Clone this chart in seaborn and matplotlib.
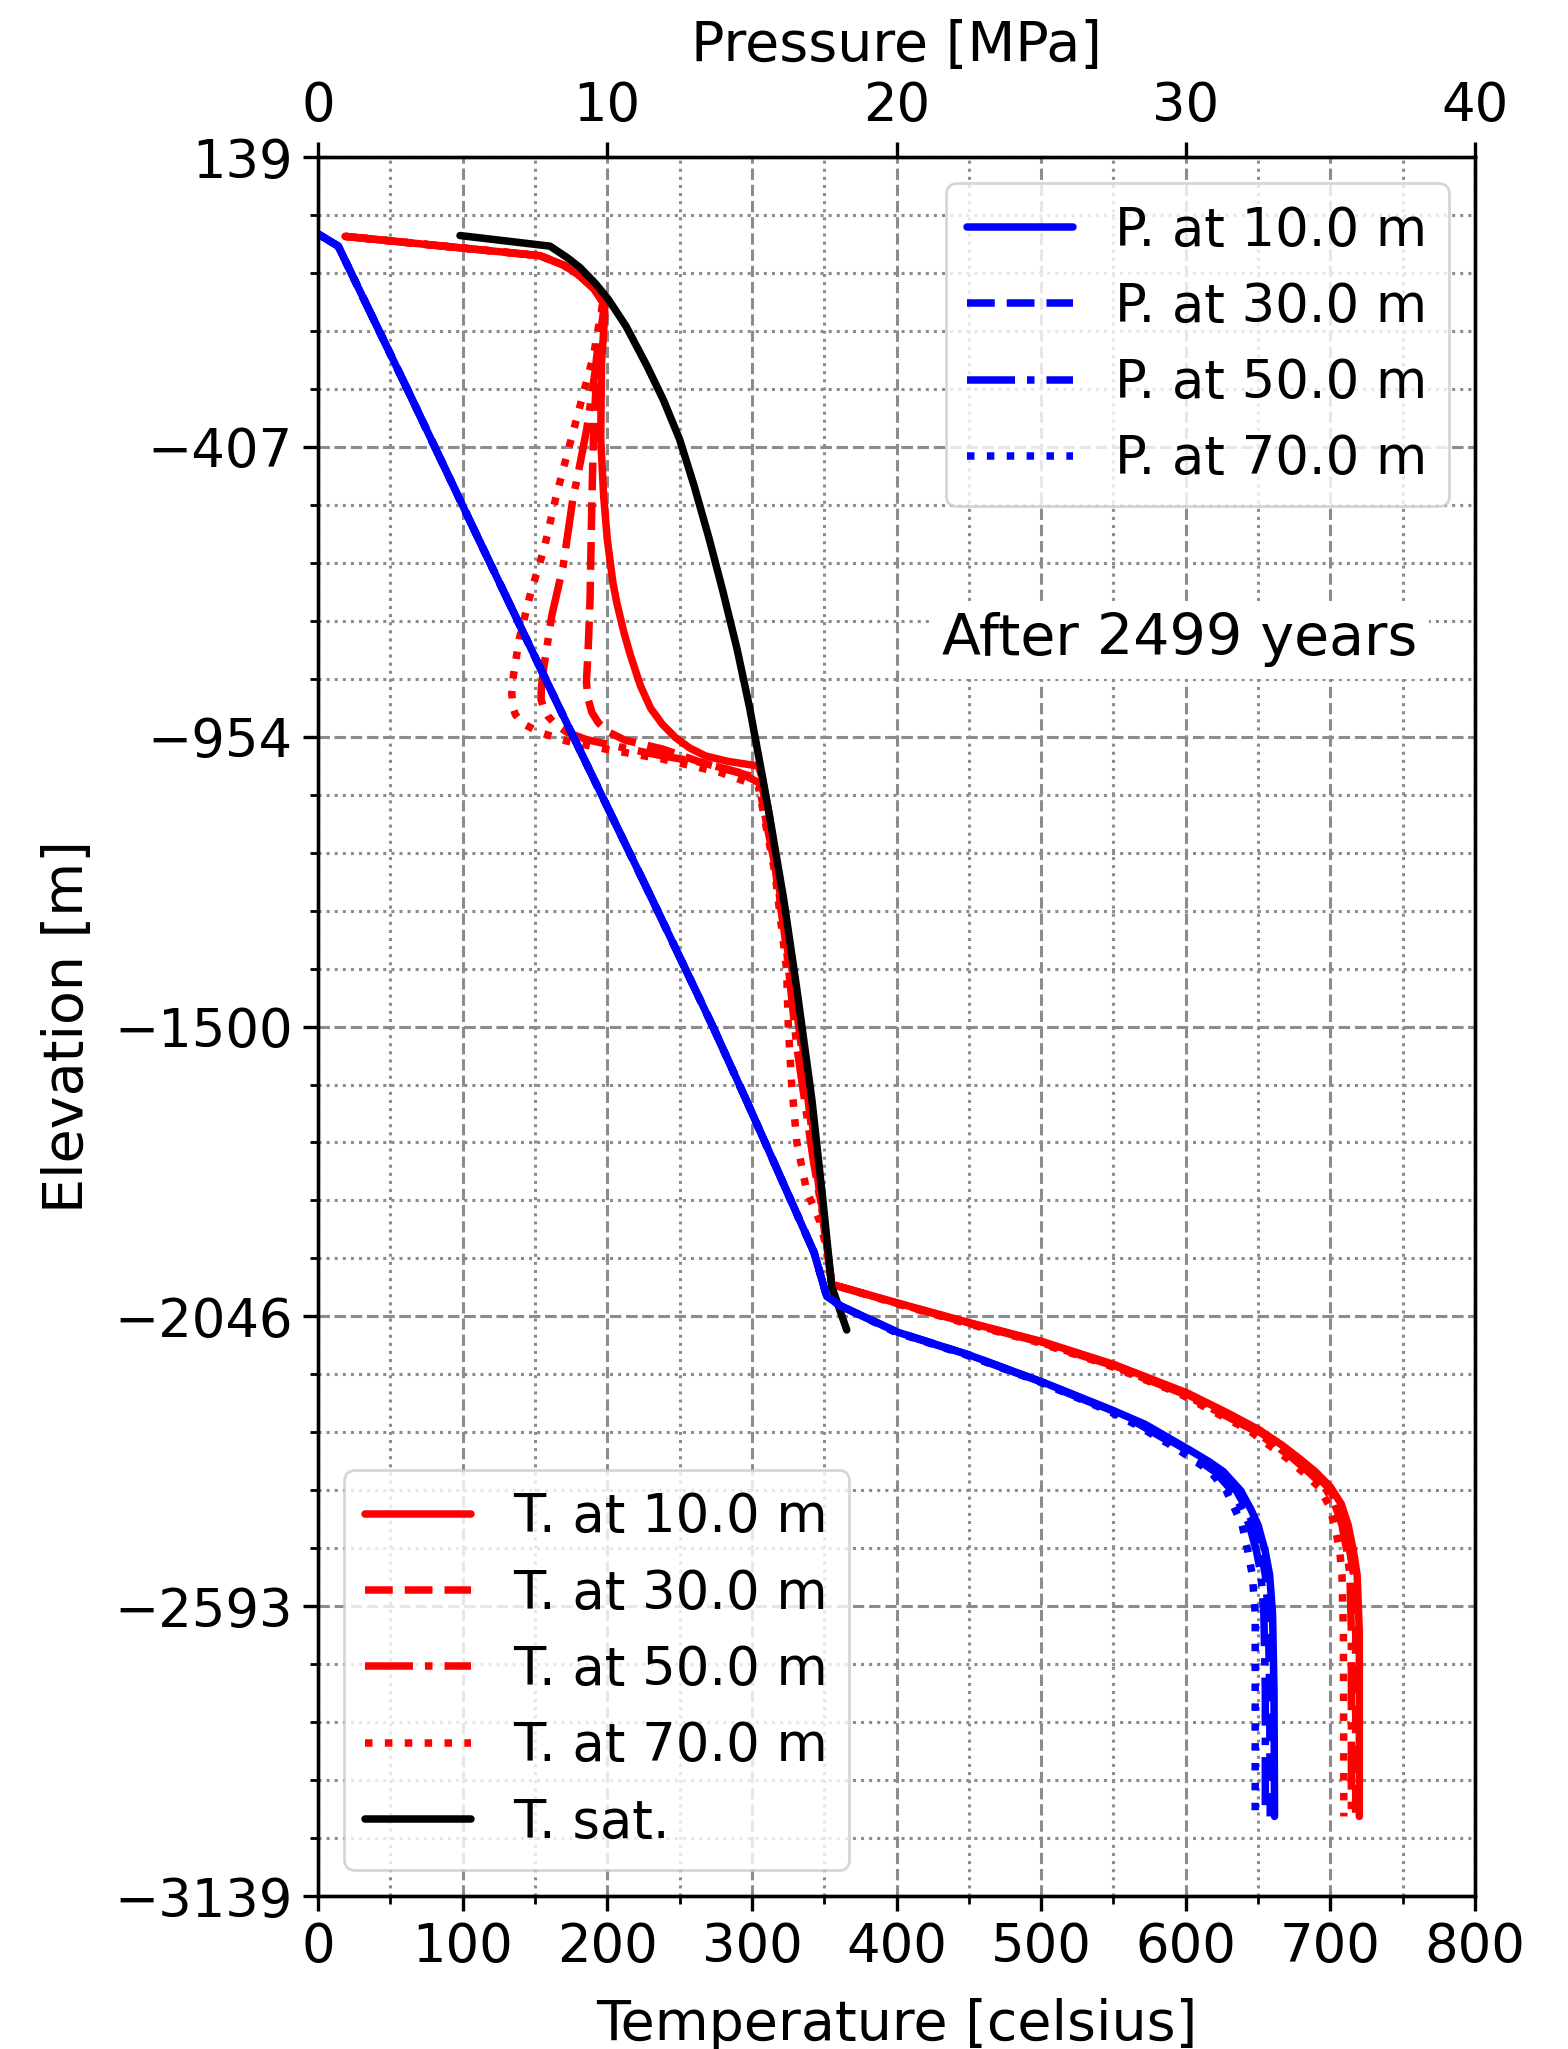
import matplotlib
matplotlib.use("Agg")
import matplotlib.pyplot as plt
from matplotlib.ticker import MultipleLocator, AutoMinorLocator, NullLocator
from matplotlib.lines import Line2D
import seaborn as sns

# ---------------- pressure profiles (MPa) vs elevation (m) ----------------
p10_z = [-6, -29, -300, -581, -900, -1260, -1500, -1638, -1926, -2009, -2027, -2076,
         -2119, -2170, -2224, -2250, -2296, -2320, -2339, -2375, -2410, -2440, -2490,
         -2534, -2606, -2750, -2989]
p10_v = [0.0, 0.70, 3.10, 5.55, 8.35, 11.55, 13.65, 14.80, 17.15, 17.59, 18.08, 20.03,
         22.5, 25.04, 27.5, 28.6, 30.06, 30.8, 31.3, 31.9, 32.25, 32.5, 32.75,
         32.9, 33.0, 33.05, 33.07]
p30_z = p10_z
p30_v = [0.0, 0.70, 3.10, 5.55, 8.35, 11.55, 13.65, 14.80, 17.15, 17.59, 18.08, 20.03,
         22.5, 25.0, 27.45, 28.5, 29.95, 30.65, 31.15, 31.75, 32.1, 32.35, 32.6,
         32.75, 32.85, 32.9, 32.92]
p50_z = p10_z
p50_v = [0.0, 0.70, 3.10, 5.55, 8.35, 11.55, 13.65, 14.80, 17.15, 17.59, 18.08, 20.0,
         22.45, 24.98, 27.4, 28.4, 29.85, 30.5, 31.0, 31.6, 31.95, 32.2, 32.45,
         32.6, 32.7, 32.75, 32.75]
p70_z = p10_z
p70_v = [0.0, 0.70, 3.10, 5.55, 8.35, 11.55, 13.65, 14.80, 17.15, 17.59, 18.08, 19.95,
         22.4, 24.95, 27.3, 28.25, 29.7, 30.35, 30.85, 31.4, 31.7, 31.95, 32.15,
         32.3, 32.4, 32.4, 32.4]

# ---------------- temperature profiles (celsius) vs elevation (m) ----------------
t10_z = [-10.6, -32.6, -47, -65, -85, -110, -135, -154, -250, -393, -500, -581, -663,
         -700, -757, -800, -858, -900, -930, -955, -975, -990, -1000, -1009, -1030,
         -1100, -1260, -1428, -1608, -1753, -1861, -1986, -2021, -2058, -2094, -2137,
         -2191, -2230, -2260, -2290, -2314, -2340, -2368, -2400, -2440, -2490, -2534,
         -2642, -2989]
t10_v = [18.7, 100, 153.5, 170, 181, 191, 197, 198.4, 196, 195.5, 197.5, 200, 203.9,
         206.5, 211.5, 216, 223, 230, 238, 247, 257, 268, 283, 304.5, 307,
         312, 320, 330, 338.5, 344.8, 349.4, 355.2, 400.5, 450, 500.9, 550.3,
         601.2, 630, 650.6, 667, 678.4, 690, 700, 707.5, 712.3, 716, 718.5,
         720, 720]

t30_z = [-10.6, -32.6, -47, -65, -85, -110, -135, -141, -200, -267, -393, -506, -695,
         -789, -850, -880, -908, -928, -945, -960, -977, -1002, -1028, -1047, -1100,
         -1260, -1428, -1608, -1753, -1861, -1986, -2021, -2058, -2094, -2137, -2191,
         -2230, -2260, -2290, -2314, -2340, -2368, -2400, -2440, -2490, -2534, -2642,
         -2989]
t30_v = [18.7, 100, 153.5, 170, 181, 191, 197, 198, 195, 192.7, 190.4, 189.4, 188.1,
         186.8, 185.6, 186.5, 189.4, 194, 201, 212, 238.3, 264.8, 299.2, 307, 311,
         319, 329, 337.5, 344, 349, 355.2, 400, 449, 499.5, 548.5, 599,
         628, 648.5, 665, 676.5, 688, 698, 705.5, 710, 713.5, 716, 717.5,
         717.5]

t50_z = [-10.6, -32.6, -47, -65, -85, -110, -135, -267, -374, -456, -506, -632, -726,
         -820, -860, -883, -900, -915, -930, -945, -959, -975, -990, -1002, -1021,
         -1040, -1211, -1356, -1536, -1644, -1753, -1861, -1933, -1986, -2021, -2058,
         -2094, -2137, -2191, -2230, -2260, -2290, -2314, -2340, -2368, -2400, -2440,
         -2490, -2534, -2642, -2989]
t50_v = [18.7, 100, 153.5, 170, 181, 191, 197, 191.5, 185.8, 180, 176.2, 169.5, 161.6,
         156.3, 154.5, 154.2, 156, 159, 164, 172, 185.4, 211.9, 238.3, 264.8, 291.2,
         304.5, 317, 324, 331, 336.7, 342.5, 349.4, 352.9, 355.2, 399.5, 448,
         498, 547, 597, 625, 646, 662, 674, 685, 696, 703, 708,
         711.5, 713.5, 714.5, 714.5]

t70_z = [-10.6, -32.6, -47, -65, -85, -110, -135, -236, -330, -424, -506, -600, -682,
         -770, -839, -870, -896, -912, -928, -946, -962, -977, -996, -1021, -1047,
         -1211, -1392, -1500, -1608, -1717, -1810, -1868, -1933, -1986, -2021, -2058,
         -2094, -2137, -2191, -2230, -2260, -2290, -2314, -2340, -2368, -2400, -2440,
         -2490, -2534, -2642, -2989]
t70_v = [18.7, 100, 153.5, 170, 181, 191, 197, 190.4, 181.2, 172, 164.2, 156.3, 147.1,
         139.1, 135.1, 134, 134.5, 136.5, 141, 153.6, 172.2, 198.7, 238.3, 278, 304.5,
         316, 324, 325.2, 327.5, 331, 337.9, 347.1, 352.9, 355.2, 398, 446,
         496, 545, 595, 622, 643, 658, 670, 681, 692, 698.5, 703,
         706.5, 708, 709, 709.3]

tsat_z = [-9, -29, -50, -69, -100, -129, -180, -255, -320, -393, -480, -581, -680, -789,
          -900, -1010, -1103, -1260, -1428, -1638, -1825, -1990, -2072]
tsat_v = [98.2, 160.4, 172, 181, 192, 200.7, 213, 227.5, 239, 250, 260, 270.5, 280, 289.8,
          298.5, 306, 312.2, 322, 331, 341.5, 349, 355.2, 365.6]

elev_ticks = [139, -407.3, -953.7, -1500, -2046.3, -2592.7, -3139]
elev_labels = ["139", "\u2212407", "\u2212954", "\u22121500", "\u22122046", "\u22122593", "\u22123139"]

sns.set_style("white")
plt.rcParams["font.family"] = ["DejaVu Sans"]
plt.rcParams.update({
    "text.color": "black",
    "axes.labelcolor": "black",
    "xtick.color": "black",
    "ytick.color": "black",
    "axes.edgecolor": "black",
})
FS = 19
LW = 2.7

fig = plt.figure(figsize=(7.84, 10.245), dpi=200)
ax1 = fig.add_axes([0.2028, 0.07467, 0.7379, 0.8487])
ax2 = ax1.twiny()

temp_series = [
    (t10_v, t10_z, "-", "T. at 10.0 m"),
    (t30_v, t30_z, "--", "T. at 30.0 m"),
    (t50_v, t50_z, "-.", "T. at 50.0 m"),
    (t70_v, t70_z, ":", "T. at 70.0 m"),
]
for xv, zv, ls, lab in temp_series:
    sns.lineplot(x=xv, y=zv, ax=ax1, color="red", linestyle=ls, linewidth=LW,
                 sort=False, estimator=None)
sns.lineplot(x=tsat_v, y=tsat_z, ax=ax1, color="black", linestyle="-", linewidth=LW,
             sort=False, estimator=None)

pres_series = [
    (p10_v, p10_z, "-", "P. at 10.0 m"),
    (p30_v, p30_z, "--", "P. at 30.0 m"),
    (p50_v, p50_z, "-.", "P. at 50.0 m"),
    (p70_v, p70_z, ":", "P. at 70.0 m"),
]
for xv, zv, ls, lab in pres_series:
    sns.lineplot(x=xv, y=zv, ax=ax2, color="blue", linestyle=ls, linewidth=LW,
                 sort=False, estimator=None)

# axes ranges and ticks
ax1.set_xlim(0, 800)
ax1.set_ylim(-3139, 139)
ax2.set_xlim(0, 40)
ax2.set_ylim(-3139, 139)
ax1.xaxis.set_major_locator(MultipleLocator(100))
ax1.xaxis.set_minor_locator(MultipleLocator(50))
ax1.set_yticks(elev_ticks)
ax1.set_yticklabels(elev_labels)
ax1.yaxis.set_minor_locator(AutoMinorLocator(5))
ax2.xaxis.set_major_locator(MultipleLocator(10))
ax2.xaxis.set_minor_locator(NullLocator())

ax1.grid(which="major", linestyle="--", color="0.55", linewidth=1.1)
ax1.grid(which="minor", linestyle=":", color="0.55", linewidth=1.1)
ax1.set_axisbelow(True)
ax2.grid(False)

for ax in (ax1, ax2):
    for sp in ax.spines.values():
        sp.set_linewidth(1.2)
        sp.set_color("black")
ax1.tick_params(axis="both", which="major", direction="out", length=5.5, width=1.2,
                labelsize=FS, color="black", labelcolor="black",
                bottom=True, left=True, top=False, right=False)
ax1.tick_params(axis="both", which="minor", direction="out", length=3, width=1.0,
                color="black", bottom=True, left=True, top=False, right=False)
ax2.tick_params(axis="x", which="major", direction="out", length=5.5, width=1.2,
                labelsize=FS, color="black", labelcolor="black", top=True, bottom=False)

ax1.set_xlabel("Temperature [celsius]", fontsize=FS + 1, labelpad=9)
ax1.set_ylabel("Elevation [m]", fontsize=FS + 1, labelpad=7)
ax2.set_xlabel("Pressure [MPa]", fontsize=FS + 1, labelpad=7)

# legends
t_handles = [Line2D([], [], color="red", linestyle=ls, linewidth=LW) for _, _, ls, _ in temp_series]
t_handles.append(Line2D([], [], color="black", linestyle="-", linewidth=LW))
t_labels = [lab for _, _, _, lab in temp_series] + ["T. sat."]
ax1.legend(t_handles, t_labels, loc="lower left", fontsize=FS, framealpha=0.8,
           edgecolor="0.8", fancybox=True, labelspacing=0.46)

p_handles = [Line2D([], [], color="blue", linestyle=ls, linewidth=LW) for _, _, ls, _ in pres_series]
p_labels = [lab for _, _, _, lab in pres_series]
ax2.legend(p_handles, p_labels, loc="upper right", fontsize=FS, framealpha=0.8,
           edgecolor="0.8", fancybox=True, labelspacing=0.46)

ax2.text(0.7446, 0.7223, "After 2499 years", transform=ax2.transAxes, fontsize=20.5,
         ha="center", va="center",
         bbox=dict(facecolor="white", edgecolor="none", pad=4))

fig.savefig("out.png", dpi=200)
